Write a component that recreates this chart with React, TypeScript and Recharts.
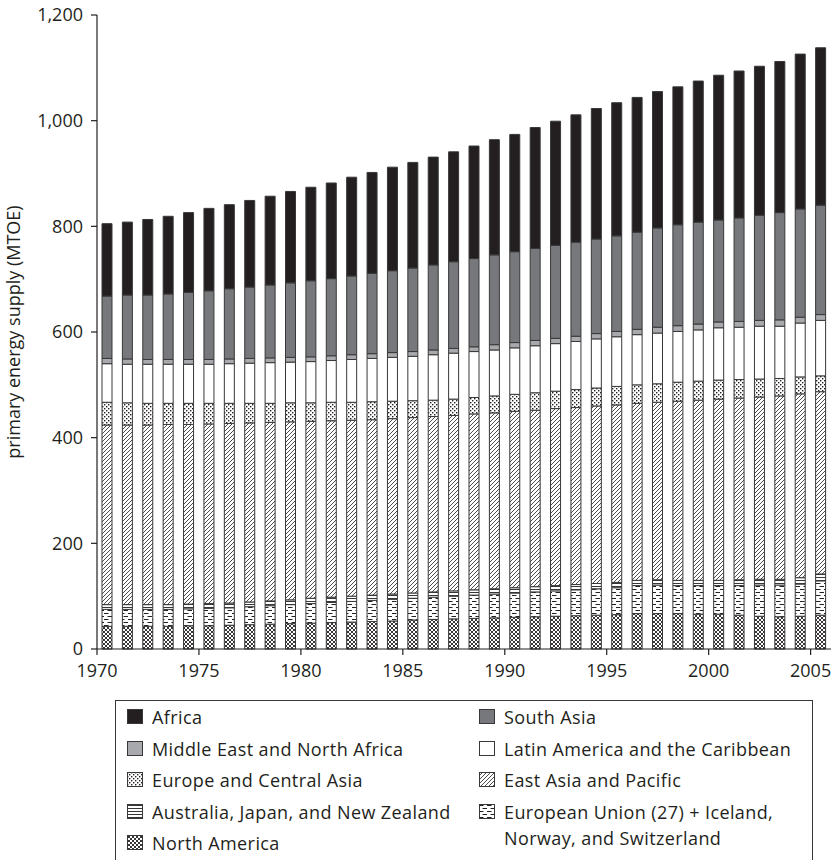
import React from 'react';
import { BarChart, Bar, XAxis, YAxis } from 'recharts';

// Primary energy supply by region, 1970–2005 (MTOE)
const years = [
  1970, 1971, 1972, 1973, 1974, 1975, 1976, 1977, 1978, 1979,
  1980, 1981, 1982, 1983, 1984, 1985, 1986, 1987, 1988, 1989,
  1990, 1991, 1992, 1993, 1994, 1995, 1996, 1997, 1998, 1999,
  2000, 2001, 2002, 2003, 2004, 2005,
];

const northAmerica = [
  43, 43, 43, 43, 44, 44, 45, 46, 47, 48, 49, 50, 51, 52, 53, 55, 56, 57, 58, 59,
  60, 61, 62, 63, 64, 65, 67, 67, 67, 66, 66, 64, 62, 61, 62, 64,
];
const europeanUnion = [
  32, 32, 32, 32, 32, 33, 33, 34, 35, 36, 37, 38, 39, 40, 41, 41, 42, 43, 44, 45,
  46, 47, 48, 49, 50, 51, 53, 54, 53, 54, 54, 56, 59, 60, 61, 65,
];
const australiaJapanNz = [
  9, 9, 9, 9, 9, 9, 9, 9, 9, 9, 10, 10, 10, 10, 10, 10, 10, 10, 10, 10,
  10, 10, 10, 10, 10, 10, 10, 10, 10, 10, 10, 11, 11, 11, 12, 13,
];
const eastAsiaPacific = [
  340, 340, 340, 341, 340, 340, 340, 339, 338, 337, 335, 334, 333, 332, 332, 332, 332, 332, 333, 333,
  334, 334, 335, 335, 336, 336, 335, 336, 339, 341, 343, 344, 345, 347, 348, 345,
];
const europeCentralAsia = [
  43, 42, 41, 40, 40, 39, 38, 37, 36, 36, 35, 35, 34, 34, 33, 32, 31, 31, 31, 32,
  32, 33, 33, 34, 34, 35, 35, 35, 36, 36, 36, 35, 34, 33, 32, 30,
];
const latinAmerica = [
  73, 73, 74, 74, 74, 74, 75, 76, 77, 77, 78, 79, 81, 82, 83, 84, 86, 87, 87, 87,
  88, 89, 90, 91, 93, 94, 95, 96, 96, 97, 99, 99, 100, 99, 102, 105,
];
const middleEastNorthAfrica = [
  10, 10, 9, 9, 9, 9, 9, 9, 9, 9, 9, 9, 9, 9, 9, 9, 9, 9, 9, 10,
  10, 10, 10, 10, 10, 10, 10, 11, 11, 11, 11, 11, 11, 12, 11, 11,
];
const southAsia = [
  118, 121, 122, 124, 127, 130, 133, 135, 138, 141, 144, 146, 149, 152, 155, 158, 161, 164, 167, 170,
  172, 174, 176, 178, 179, 181, 184, 188, 191, 193, 193, 196, 199, 203, 205, 207,
];
const africa = [
  137, 138, 143, 147, 151, 156, 159, 164, 168, 173, 177, 181, 187, 191, 196, 200, 204, 208, 213, 218,
  222, 229, 235, 241, 247, 252, 255, 258, 261, 267, 274, 278, 282, 286, 293, 298,
];

const yTicks = [0, 200, 400, 600, 800, 1000, 1200];
const labelledYears = [1970, 1975, 1980, 1985, 1990, 1995, 2000, 2005];

const data = years.map((year, i) => ({
  year,
  northAmerica: northAmerica[i],
  europeanUnion: europeanUnion[i],
  australiaJapanNz: australiaJapanNz[i],
  eastAsiaPacific: eastAsiaPacific[i],
  europeCentralAsia: europeCentralAsia[i],
  latinAmerica: latinAmerica[i],
  middleEastNorthAfrica: middleEastNorthAfrica[i],
  southAsia: southAsia[i],
  africa: africa[i],
}));

const INK = '#231f20';
const EDGE = '#383838';
const FONT = '"Open Sans", Lato, "DejaVu Sans", sans-serif';

// stacking order, bottom to top
const series = [
  { key: 'northAmerica', fill: 'url(#pNa)' },
  { key: 'europeanUnion', fill: 'url(#pEu)' },
  { key: 'australiaJapanNz', fill: 'url(#pAnz)' },
  { key: 'eastAsiaPacific', fill: 'url(#pEap)' },
  { key: 'europeCentralAsia', fill: 'url(#pEca)' },
  { key: 'latinAmerica', fill: '#ffffff' },
  { key: 'middleEastNorthAfrica', fill: '#a7a9ac' },
  { key: 'southAsia', fill: '#77787b' },
  { key: 'africa', fill: INK },
];

const legendLeft = [
  { label: ['Africa'], fill: INK },
  { label: ['Middle East and North Africa'], fill: '#a7a9ac' },
  { label: ['Europe and Central Asia'], fill: 'url(#pEca)' },
  { label: ['Australia, Japan, and New Zealand'], fill: 'url(#pAnz)' },
  { label: ['North America'], fill: 'url(#pNa)' },
];
const legendRight = [
  { label: ['South Asia'], fill: '#77787b' },
  { label: ['Latin America and the Caribbean'], fill: '#ffffff' },
  { label: ['East Asia and Pacific'], fill: 'url(#pEap)' },
  { label: ['European Union (27) + Iceland,', 'Norway, and Switzerland'], fill: 'url(#pEu)' },
];

// Year ticks sit on the left edge of each year's band (the year boundary)
const YearTick = (props: any) => {
  const { x, y, payload } = props;
  if (!labelledYears.includes(payload.value)) return <g />;
  const bx = x - (payload.offset || 0);
  return (
    <g>
      <line x1={bx} x2={bx} y1={y - 6} y2={y} stroke={INK} strokeWidth={1.2} />
      <text
        x={bx}
        y={y + 9}
        dy="0.71em"
        textAnchor="middle"
        fill={INK}
        fontSize={18}
        fontFamily={FONT}
      >
        {payload.value}
      </text>
    </g>
  );
};

const LegendItem = ({ label, fill }: { label: string[]; fill: string }) => (
  <div style={{ display: 'flex', alignItems: 'flex-start', height: 31.5 }}>
    <svg width={16} height={15} style={{ flex: 'none', marginTop: 5 }}>
      <rect x={0.5} y={0.5} width={15} height={14} fill={fill} stroke={EDGE} strokeWidth={1} />
    </svg>
    <div style={{ marginLeft: 9, lineHeight: '26px' }}>
      {label.map((l) => (
        <div key={l}>{l}</div>
      ))}
    </div>
  </div>
);

export default function App() {
  return (
    <div
      style={{
        position: 'absolute',
        left: 0,
        top: 0,
        width: 834,
        height: 860,
        overflow: 'hidden',
        background: '#ffffff',
      }}
    >
      <BarChart
        width={834}
        height={860}
        data={data}
        margin={{ top: 15, right: 3, left: 0, bottom: 181 }}
        barSize={10}
      >
        <defs>
          <pattern id="pEap" patternUnits="userSpaceOnUse" width={4} height={4}>
            <rect width={4} height={4} fill="#ffffff" />
            <path d="M-1,1 l2,-2 M0,4 l4,-4 M3,5 l2,-2" stroke={INK} strokeWidth={0.8} />
          </pattern>
          <pattern id="pNa" patternUnits="userSpaceOnUse" width={4} height={4}>
            <rect width={4} height={4} fill="#ffffff" />
            <path d="M0,0 l4,4 M4,0 l-4,4" stroke={INK} strokeWidth={0.9} />
          </pattern>
          <pattern id="pEca" patternUnits="userSpaceOnUse" width={4} height={4}>
            <rect width={4} height={4} fill="#ffffff" />
            <rect x={0} y={0} width={1.4} height={1.4} fill={INK} />
            <rect x={2} y={2} width={1.4} height={1.4} fill={INK} />
          </pattern>
          <pattern id="pAnz" patternUnits="userSpaceOnUse" width={4} height={3}>
            <rect width={4} height={3} fill="#ffffff" />
            <path d="M0,2 L1,1 L2,2 L3,1 L4,2" stroke={INK} strokeWidth={0.9} fill="none" />
          </pattern>
          <pattern id="pEu" patternUnits="userSpaceOnUse" width={8} height={6}>
            <rect width={8} height={6} fill="#ffffff" />
            <path d="M0,1.5 h4.5 M3.5,4.5 h4.5" stroke={INK} strokeWidth={1.1} />
          </pattern>
        </defs>
        <XAxis
          dataKey="year"
          height={30}
          interval={0}
          stroke={INK}
          strokeWidth={1.2}
          tickLine={false}
          tickSize={6}
          tickMargin={0}
          tick={<YearTick />}
        />
        <YAxis
          domain={[0, 1200]}
          ticks={yTicks}
          interval={0}
          width={97}
          stroke={INK}
          strokeWidth={1.2}
          tickSize={6}
          tickMargin={8}
          tickFormatter={(v: number) => v.toLocaleString('en-US')}
          tick={{ fill: INK, fontSize: 18, fontFamily: FONT }}
        />
        {series.map((s) => (
          <Bar
            key={s.key}
            dataKey={s.key}
            stackId="supply"
            fill={s.fill}
            stroke={EDGE}
            strokeWidth={1}
            isAnimationActive={false}
          />
        ))}
      </BarChart>

      <svg
        width={40}
        height={660}
        style={{ position: 'absolute', left: 0, top: 0, pointerEvents: 'none' }}
      >
        <text
          x={0}
          y={0}
          transform="translate(20,332) rotate(-90)"
          textAnchor="middle"
          fill={INK}
          fontSize={18}
          fontFamily={FONT}
        >
          primary energy supply (MTOE)
        </text>
      </svg>

      <div
        style={{
          position: 'absolute',
          left: 115,
          top: 700,
          width: 698,
          height: 170,
          border: `1px solid ${EDGE}`,
          boxSizing: 'border-box',
          fontFamily: FONT,
          fontSize: 18,
          letterSpacing: 0.4,
          color: INK,
        }}
      >
        <div style={{ position: 'absolute', left: 11, top: 3 }}>
          {legendLeft.map((it) => (
            <LegendItem key={it.label[0]} label={it.label} fill={it.fill} />
          ))}
        </div>
        <div style={{ position: 'absolute', left: 363, top: 3 }}>
          {legendRight.map((it) => (
            <LegendItem key={it.label[0]} label={it.label} fill={it.fill} />
          ))}
        </div>
      </div>
    </div>
  );
}
